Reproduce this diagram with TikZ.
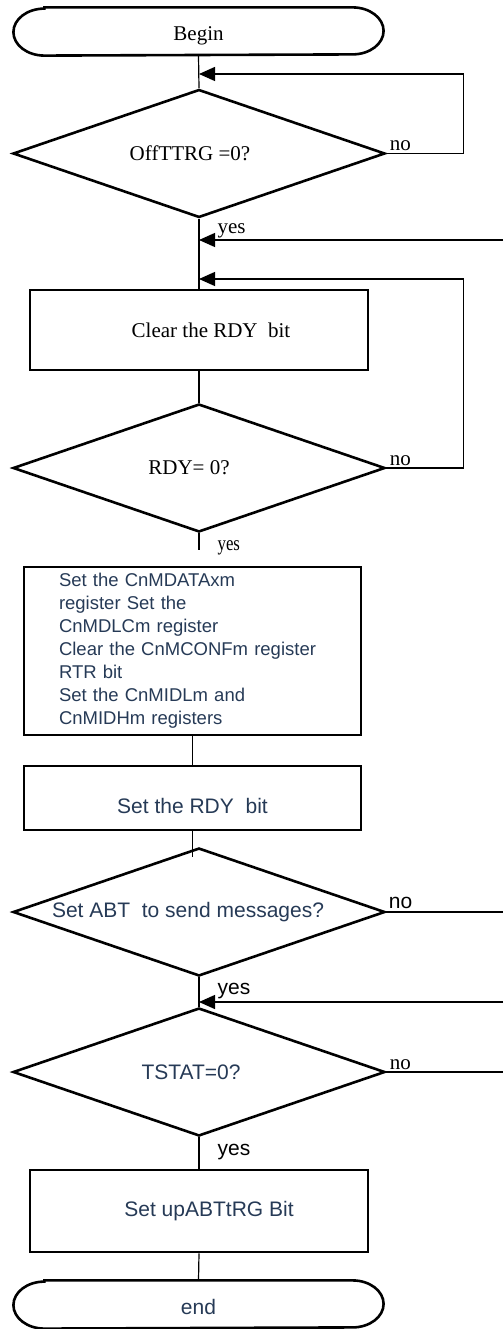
\documentclass[tikz,border=0pt]{standalone}
\usepackage{fontspec}
\setmainfont{Liberation Serif}
\setsansfont{Liberation Sans}
\usetikzlibrary{positioning,shapes.geometric,arrows.meta}
\definecolor{inkblue}{RGB}{38,58,86}

\begin{document}
\begin{tikzpicture}[x=1pt, y=-1pt, line width=1.2pt,
  serif/.style={font=\fontsize{21}{24}\selectfont\rmfamily},
  sans/.style={font=\fontsize{21}{24}\selectfont\sffamily, text=inkblue},
  term/.style={rectangle, inner sep=0pt, minimum width=307pt, minimum height=47pt},
  dec/.style={diamond, draw, line width=2.6pt, inner sep=0pt, shape aspect=2.9, minimum width=372pt, minimum height=128pt},
  proc/.style={rectangle, draw, line width=2.6pt, inner sep=0pt, minimum width=337pt},
  flow/.style={-{Triangle[length=16pt, width=14pt]}, line width=1.3pt},
  tag/.style={inner sep=0pt}]
\useasboundingbox (0,0) rectangle (503,1329);

\node[term, serif, text height=22pt] (begin) at (198.5,31.5) {Begin};
\draw[line width=2.6pt] (begin.north west) -- (begin.north east)
  arc[start angle=90, end angle=-90, x radius=31pt, y radius=23.5pt] -- (begin.south west)
  arc[start angle=270, end angle=90, x radius=31pt, y radius=23.5pt] -- cycle;
\node[dec, serif] (offt) at (199,153.5) {OffTTRG =0?\hspace*{18pt}};
\node[proc, serif, minimum width=338pt, minimum height=80pt] (clr) at (199,330) {\hspace*{24pt}Clear the RDY~~bit};
\node[dec, serif] (rdy) at (199,468) {RDY= 0?\hspace*{20pt}};
\node[proc, sans, minimum height=168pt, text width=267pt, align=left, font=\fontsize{18.5}{23}\selectfont\sffamily] (regs) at (192.5,651)
  {Set the CnMDATAxm\\ register Set the\\ CnMDLCm register\\ Clear the CnMCONFm register\\ RTR bit\\ Set the CnMIDLm and\\ CnMIDHm registers};
\node[proc, sans, minimum height=64pt, text height=32pt] (setrdy) at (192.5,798) {Set the RDY~~bit};
\node[dec, sans] (abt) at (199,912) {Set ABT~~to send messages?\hspace*{22pt}};
\node[dec, sans] (tstat) at (199,1072) {TSTAT=0?\hspace*{16pt}};
\node[proc, sans, minimum width=338pt, minimum height=82pt] (trg) at (199,1211) {\hspace*{20pt}Set upABTtRG Bit};
\node[term, sans, text height=20pt] (stop) at (198.5,1304.5) {end};
\draw[line width=2.6pt] (stop.north west) -- (stop.north east)
  arc[start angle=90, end angle=-90, x radius=31pt, y radius=23.5pt] -- (stop.south west)
  arc[start angle=270, end angle=90, x radius=31pt, y radius=23.5pt] -- cycle;

% joins and loose ends
\coordinate (j1) at (199,74);
\coordinate (j2) at (199,240);
\coordinate (j3) at (199,279);
\coordinate (in1) at (503,240);
\coordinate (rdyout) at (199,550);
\coordinate (setout) at (192.5,857);
\coordinate (out1) at (503,912);
\coordinate (j4) at (199,1002);
\coordinate (in2) at (503,1002);
\coordinate (out2) at (503,1072);

\draw (begin.south) -- (offt.north);
\draw[flow] (offt.east) -- ++(77,0) |- (j1);
\draw (offt.south) -- (clr.north);
\draw[flow] (in1) -- (j2);
\draw[flow] (rdy.east) -- ++(77,0) |- (j3);
\draw (clr.south) -- (rdy.north);
\draw (rdy.south) -- (rdyout);
\draw (regs.south) -- (setrdy.north);
\draw (setrdy.south) -- (setout);
\draw (abt.east) -- (out1);
\draw (abt.south) -- (tstat.north);
\draw[flow] (in2) -- (j4);
\draw (tstat.east) -- (out2);
\draw (tstat.south) -- (trg.north);
\draw (trg.south) -- (stop.north);

% branch labels
\node[tag, serif, above right=2pt and 3pt of offt.east] (no1) {no};
\node[tag, serif, below right=4pt and 18pt of offt.south] (yes1) {yes};
\node[tag, serif, above right=2pt and 3pt of rdy.east] (no2) {no};
\node[tag, serif, below right=7pt and 18pt of rdy.south] (yes2) {\scalebox{0.8}[1]{yes}};
\node[tag, sans, text=black, above right=3pt and 2pt of abt.east] (no3) {no};
\node[tag, sans, text=black, above right=3pt and 18pt of j4] (yes3) {yes};
\node[tag, serif, above right=2pt and 3pt of tstat.east] (no4) {no};
\node[tag, sans, text=black, below right=6pt and 18pt of tstat.south] (yes4) {yes};
\end{tikzpicture}
\end{document}
